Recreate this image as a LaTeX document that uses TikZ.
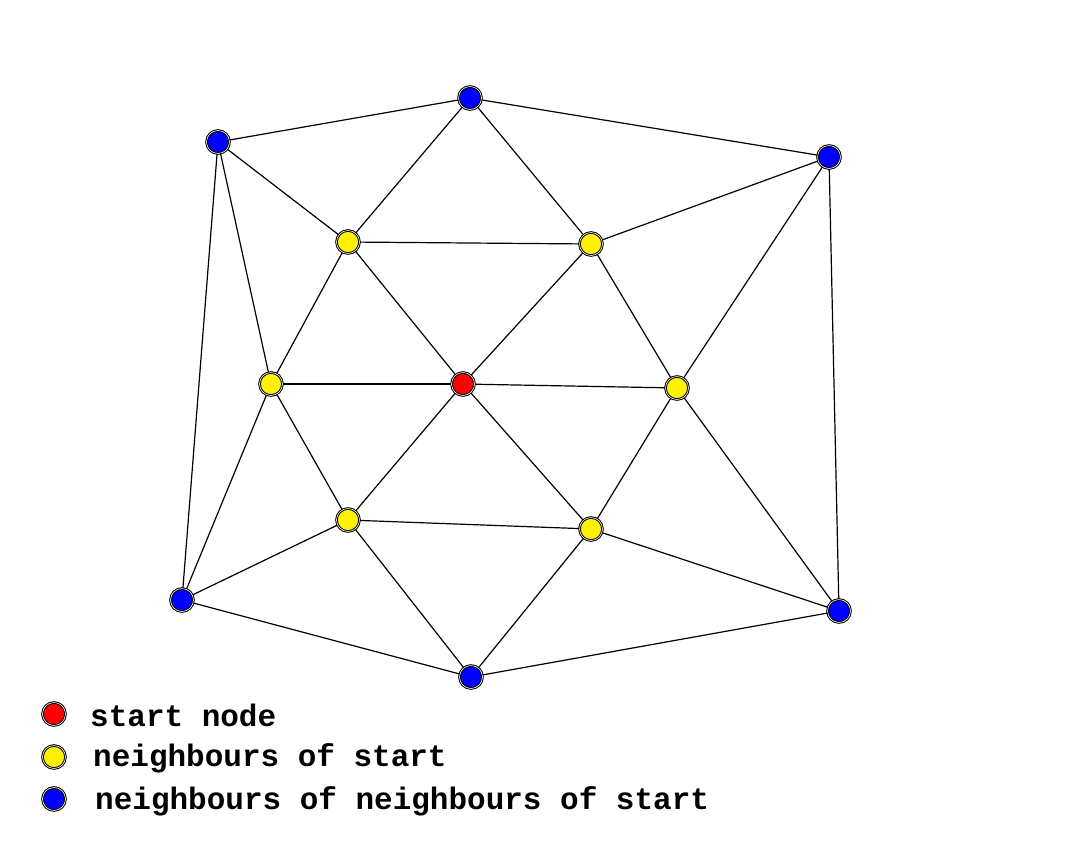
\documentclass[tikz,border=0pt]{standalone}
\usepackage{fontspec}
\setmonofont{Liberation Mono}
\begin{document}
\begin{tikzpicture}[x=1pt,y=-1pt,
  v/.style={circle,draw=black,line width=1pt,minimum size=23pt,inner sep=0pt,double=white,double distance=0.6pt},
  red/.style={v,fill=red}, yel/.style={v,fill=yellow}, blu/.style={v,fill=blue},
  e/.style={line width=1.2pt},
  lab/.style={anchor=west,font=\ttfamily\bfseries\fontsize{31}{31}\selectfont,inner sep=0pt}]
\useasboundingbox (0,0) rectangle (1072,855);
\coordinate (o) at (0,0);
\node[red] (c) at (463,384) {};
\node[yel] (a) at (348,242) {};
\node[yel] (b) at (591,244) {};
\node[yel] (r) at (677,388) {};
\node[yel] (l) at (271,384) {};
\node[yel] (d) at (348,520) {};
\node[yel] (f) at (591,529) {};
\node[blu] (t) at (470,98) {};
\node[blu] (tl) at (218,142) {};
\node[blu] (tr) at (829,157) {};
\node[blu] (bl) at (182,600) {};
\node[blu] (bt) at (471,677) {};
\node[blu] (br) at (839,611) {};
\begin{scope}[on background layer/.try]
\end{scope}
\foreach \p/\q in {t/tl,t/tr,t/a,t/b,tl/a,tl/l,tl/bl,tr/b,tr/r,tr/br,a/b,a/c,a/l,b/c,b/r,l/c,l/d,l/bl,r/c,r/f,r/br,d/c,d/f,d/bl,d/bt,f/c,f/bt,f/br,bl/bt,bt/br}
  \draw[e] (\p) -- (\q);
\node[red] (k1) at (54,714) {};
\node[yel] (k2) at (54,757) {};
\node[blu] (k3) at (54,799) {};
\node[lab] (t1) at (90,715) {start node};
\node[lab] (t2) at (93,758) {neighbours of start};
\node[lab] (t3) at (95,801) {neighbours of neighbours of start};
\end{tikzpicture}
\end{document}
